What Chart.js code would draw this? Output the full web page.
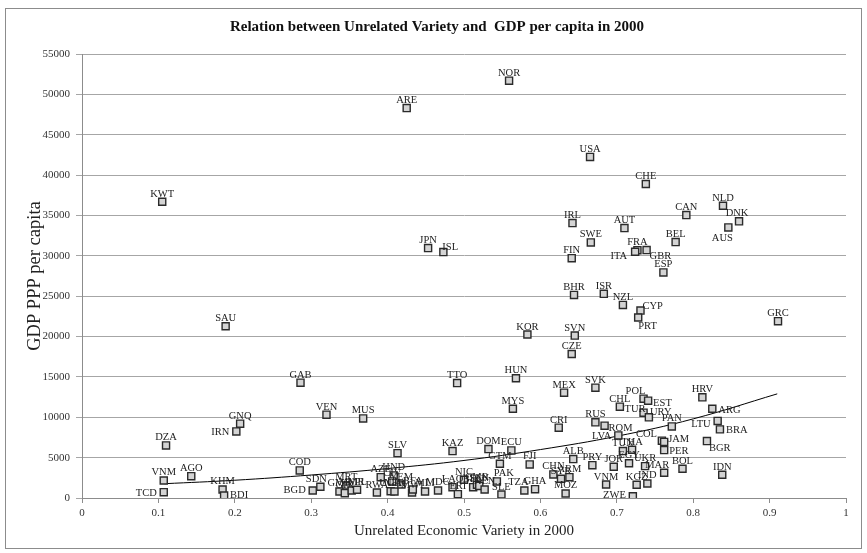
<!DOCTYPE html>
<html><head><meta charset="utf-8">
<script src="https://cdn.jsdelivr.net/npm/chart.js@4"></script>
<style>html,body{margin:0;padding:0;background:#fff}</style>
</head><body>
<canvas id="c" width="867" height="553"></canvas>
<script>
const countries = ["NOR","ARE","USA","CHE","KWT","NLD","CAN","DNK","AUS","IRL","AUT","SWE","BEL","FRA","ITA","GBR","FIN","ESP","BHR","ISR","NZL","CYP","PRT","GRC","SAU","KOR","SVN","CZE","JPN","ISL","GAB","TTO","HUN","MEX","SVK","MYS","POL","EST","CHL","TUR","URY","HRV","ARG","VEN","MUS","GNQ","IRN","DZA","CRI","RUS","ROM","PAN","LTU","BRA","LVA","COL","JAM","BGR","PER","TUN","THA","SLV","KAZ","DOM","ECU","GTM","FJI","ALB","PRY","JOR","EGY","UKR","MAR","BOL","IDN","CHN","SYR","ARM","VNM","KGZ","IND","ZWE","MOZ","GHA","TZA","COD","AGO","VNM","TCD","KHM","BDI","BGD","SDN","GMB","MRT","GIN","MMR","NPL","RWA","AZE","HND","CIV","UGA","NER","YEM","MWI","BFA","MLI","MDG","LAO","ERI","NIC","BEN","CMR","SEN","KEN","PAK","SLE"];
const variety = [0.559,0.425,0.665,0.738,0.105,0.839,0.791,0.860,0.846,0.642,0.710,0.666,0.777,0.727,0.724,0.739,0.641,0.761,0.644,0.683,0.708,0.731,0.728,0.911,0.188,0.583,0.645,0.641,0.453,0.473,0.286,0.491,0.568,0.631,0.672,0.564,0.735,0.741,0.704,0.735,0.742,0.812,0.825,0.320,0.368,0.207,0.202,0.110,0.624,0.672,0.684,0.772,0.832,0.835,0.702,0.759,0.762,0.818,0.762,0.708,0.720,0.413,0.485,0.532,0.562,0.547,0.586,0.643,0.668,0.696,0.716,0.737,0.762,0.786,0.838,0.617,0.627,0.638,0.686,0.726,0.740,0.721,0.633,0.593,0.579,0.285,0.143,0.107,0.107,0.184,0.186,0.302,0.312,0.337,0.346,0.344,0.353,0.360,0.386,0.391,0.408,0.406,0.404,0.409,0.418,0.432,0.433,0.449,0.466,0.485,0.492,0.500,0.512,0.517,0.520,0.527,0.543,0.549];
const gdp = [51700,48300,42250,38900,36700,36200,35050,34270,33520,34060,33440,31660,31700,30700,30500,30710,29710,27940,25160,25290,23920,23220,22360,21900,21280,20250,20120,17840,30960,30460,14290,14240,14830,13050,13670,11060,12300,12060,11310,10570,9990,12470,11060,10320,9860,9206,8250,6514,8710,9370,8960,8870,9550,8500,7750,7100,6950,7050,5930,5810,5980,5560,5810,6060,5890,4240,4160,4820,4070,3870,4300,3950,3130,3620,2880,2920,2380,2580,1670,1640,1800,220,560,1090,930,3412,2705,2171,720,1055,310,930,1390,810,1550,600,930,1020,680,2580,2800,2050,840,810,1670,680,1055,810,930,1340,470,2260,1340,1640,1500,1055,2050,430];
const trendX = [0.108,0.2,0.3,0.4,0.5,0.6,0.7,0.8,0.91];
const trendY = [1770,2200,2850,3650,4650,6000,7650,9800,12900];
const xTickLabels = ["0","0.1","0.2","0.3","0.4","0.5","0.6","0.7","0.8","0.9","1"];
const yTickLabels = ["0","5000","10000","15000","20000","25000","30000","35000","40000","45000","50000","55000"];

// label placement (offset from marker, alignment) for labels not placed above
const labelPlace = {
 IRN:[-7,3.5,'right'], TCD:[-7,4,'right'], BGD:[-7,3,'right'], LTU:[-7,6,'right'], LVA:[-7,3.5,'right'], ZWE:[-7,2,'right'],
 ITA:[-8,7.5,'right'], BDI:[6,3,'left'], ARG:[6,4,'left'], BRA:[6,4,'left'], EST:[5,5.5,'left'], ROM:[4,5.5,'left'],
 PER:[5,3.5,'left'], JAM:[4,0.5,'left'], BGR:[2,9.5,'left'], GBR:[3,8.5,'left'], PRT:[0,11.5,'left'], AUS:[-6,13.5,'center'],
 ISL:[-1,-2.5,'left'], CYP:[2,-1.5,'left'], URY:[1,-2.5,'left'], TUR:[2,-0.5,'right'], COL:[-5,-3.5,'right'],
 MAR:[-7,-5,'center'], POL:[-8,-5,'center'], PAK:[7,-5,'center'], TZA:[-6,-5,'center'], SDN:[-4,-5,'center'], DNK:[-2,-5,'center']
};

const pts = countries.map((c,i)=>({x:variety[i], y:gdp[i], c}));
const trend = trendX.map((x,i)=>({x, y:trendY[i]}));
const SERIF = '"Liberation Serif","DejaVu Serif",serif';

const decor = {
  id:'decor',
  beforeDraw(chart){
    const ctx = chart.ctx;
    ctx.save();
    ctx.fillStyle='#fff'; ctx.fillRect(0,0,chart.width,chart.height);
    ctx.strokeStyle='#8c8c8c'; ctx.lineWidth=1;
    ctx.strokeRect(5.5,8.5,856,540);
    ctx.restore();
  },
  afterDraw(chart){
    const ctx = chart.ctx, a = chart.chartArea;
    ctx.save();
    ctx.fillStyle='#111';
    ctx.font='bold 15px '+SERIF; ctx.textAlign='center'; ctx.textBaseline='middle';
    ctx.fillText('Relation between Unrelated Variety and  GDP per capita in 2000', 437, 27);
    ctx.fillStyle='#222';
    ctx.font='15px '+SERIF;
    ctx.fillText('Unrelated Economic Variety in 2000', (a.left+a.right)/2, 531);
    ctx.font='18.5px '+SERIF;
    ctx.translate(35,(a.top+a.bottom)/2); ctx.rotate(-Math.PI/2);
    ctx.fillText('GDP PPP per capita',0,0);
    ctx.restore();
  },
  afterDatasetsDraw(chart){
    const ctx = chart.ctx;
    const meta = chart.getDatasetMeta(1);
    ctx.save();
    ctx.font='10.5px '+SERIF; ctx.fillStyle='#222'; ctx.textBaseline='alphabetic';
    meta.data.forEach((el,i)=>{
      const code = pts[i].c;
      const p = labelPlace[code] || [0,-5,'center'];
      ctx.textAlign = p[2];
      ctx.fillText(code, el.x+p[0], el.y+p[1]);
    });
    ctx.restore();
  }
};

new Chart(document.getElementById('c'), {
  type:'scatter',
  data:{datasets:[
    {type:'line', data:trend, borderColor:'#000', borderWidth:1, pointRadius:0, tension:0.4, fill:false, order:2},
    {data:pts, pointStyle:'rect', pointRadius:5, pointBackgroundColor:'#d4d4d4', pointBorderColor:'#2a2a2a', pointBorderWidth:1.4, order:1}
  ]},
  options:{
    responsive:false, animation:false, devicePixelRatio:1,
    layout:{padding:{top:54,right:21,left:0,bottom:0}},
    plugins:{legend:{display:false}, tooltip:{enabled:false}, title:{display:false}},
    scales:{
      x:{type:'linear', min:0, max:1,
        afterBuildTicks(s){ s.ticks = xTickLabels.map(t=>({value:parseFloat(t)})); },
        ticks:{callback:(v,i)=>xTickLabels[i], color:'#333', font:{family:SERIF,size:11}, padding:4, maxRotation:0, autoSkip:false},
        grid:{drawOnChartArea:false, drawTicks:true, tickLength:5, color:'#8c8c8c'},
        border:{color:'#8c8c8c', width:1},
        afterFit(s){ s.height = 55; }
      },
      y:{type:'linear', min:0, max:55000,
        afterBuildTicks(s){ s.ticks = yTickLabels.map(t=>({value:parseFloat(t)})); },
        ticks:{callback:(v,i)=>yTickLabels[i], color:'#333', font:{family:SERIF,size:11}, padding:6, autoSkip:false},
        grid:{color:'#a6a6a6', lineWidth:1, drawTicks:true, tickLength:6},
        border:{color:'#8c8c8c', width:1},
        afterFit(s){ s.width = 82; }
      }
    }
  },
  plugins:[decor]
});
</script>
</body></html>
